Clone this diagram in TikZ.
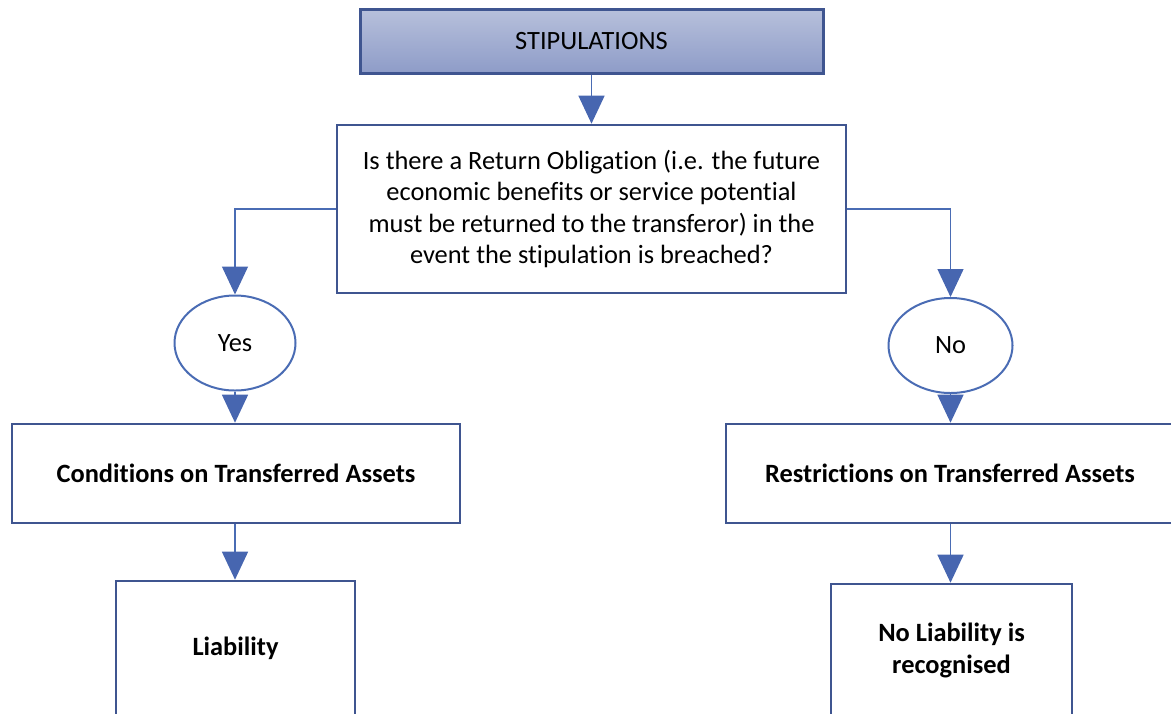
\documentclass[tikz,border=0pt]{standalone}
\usepackage{fontspec}
\setmainfont{Carlito}[RawFeature=-liga]
\usetikzlibrary{arrows.meta,shapes.geometric}
\definecolor{boxline}{HTML}{3F5590}
\definecolor{conn}{HTML}{4A6CB4}
\definecolor{headfill}{HTML}{4766B0}
\definecolor{gradtop}{HTML}{B7C0DB}
\definecolor{gradbot}{HTML}{8E9CC8}
\begin{document}
\begin{tikzpicture}[x=0.5pt,y=-0.5pt,
  every node/.style={font=\fontsize{13.2pt}{15.6pt}\selectfont, text=black, inner sep=0pt},
  box/.style={draw=boxline, line width=1.3pt, fill=white, rectangle, align=center},
  boldbox/.style={box, font=\bfseries\fontsize{13.2pt}{15.6pt}\selectfont},
  oval/.style={draw=conn, line width=1pt, ellipse, fill=white},
  link/.style={draw=conn, line width=0.7pt, -{Triangle[width=13pt,length=14pt,fill=headfill,color=headfill]}}
]
\useasboundingbox (0,0) rectangle (1171,713);
\node[box, line width=1.5pt, top color=gradtop, bottom color=gradbot, minimum width=231.5pt, minimum height=32pt] (stip) at (591.5,41) {STIPULATIONS};
\node[box, minimum width=254.5pt, minimum height=84pt] (q) at (591.5,209)
  {Is there a Return Obligation (i.e. the future\\economic benefits or service potential\\must be returned to the transferor) in the\\event the stipulation is breached?};
\node[oval, minimum width=60.5pt, minimum height=47.5pt] (yes) at (235,343) {Yes};
\node[oval, minimum width=62pt, minimum height=47.5pt] (no) at (950.5,345.5) {No};
\node[boldbox, minimum width=224pt, minimum height=49.5pt] (cond) at (236,473.5) {Conditions on Transferred Assets};
\node[boldbox, minimum width=224pt, minimum height=49.5pt] (restr) at (950,473.5) {Restrictions on Transferred Assets};
\node[boldbox, minimum width=119.5pt, minimum height=67pt] (liab) at (235.5,648) {Liability};
\node[boldbox, minimum width=120.5pt, minimum height=66.5pt] (noliab) at (951.5,650.5) {No Liability is\\recognised};
\coordinate (c1) at (cond.south -| yes.south);
\coordinate (c2) at (restr.south -| no.south);
\draw[link] (stip.south) -- (q.north);
\draw[link] (q.west) -| (yes.north);
\draw[link] (q.east) -| (no.north);
\draw[link] (yes.south) -- (yes.south |- cond.north);
\draw[link] (no.south) -- (no.south |- restr.north);
\draw[link] (c1) -- (c1 |- liab.north);
\draw[link] (c2) -- (c2 |- noliab.north);
\end{tikzpicture}
\end{document}
